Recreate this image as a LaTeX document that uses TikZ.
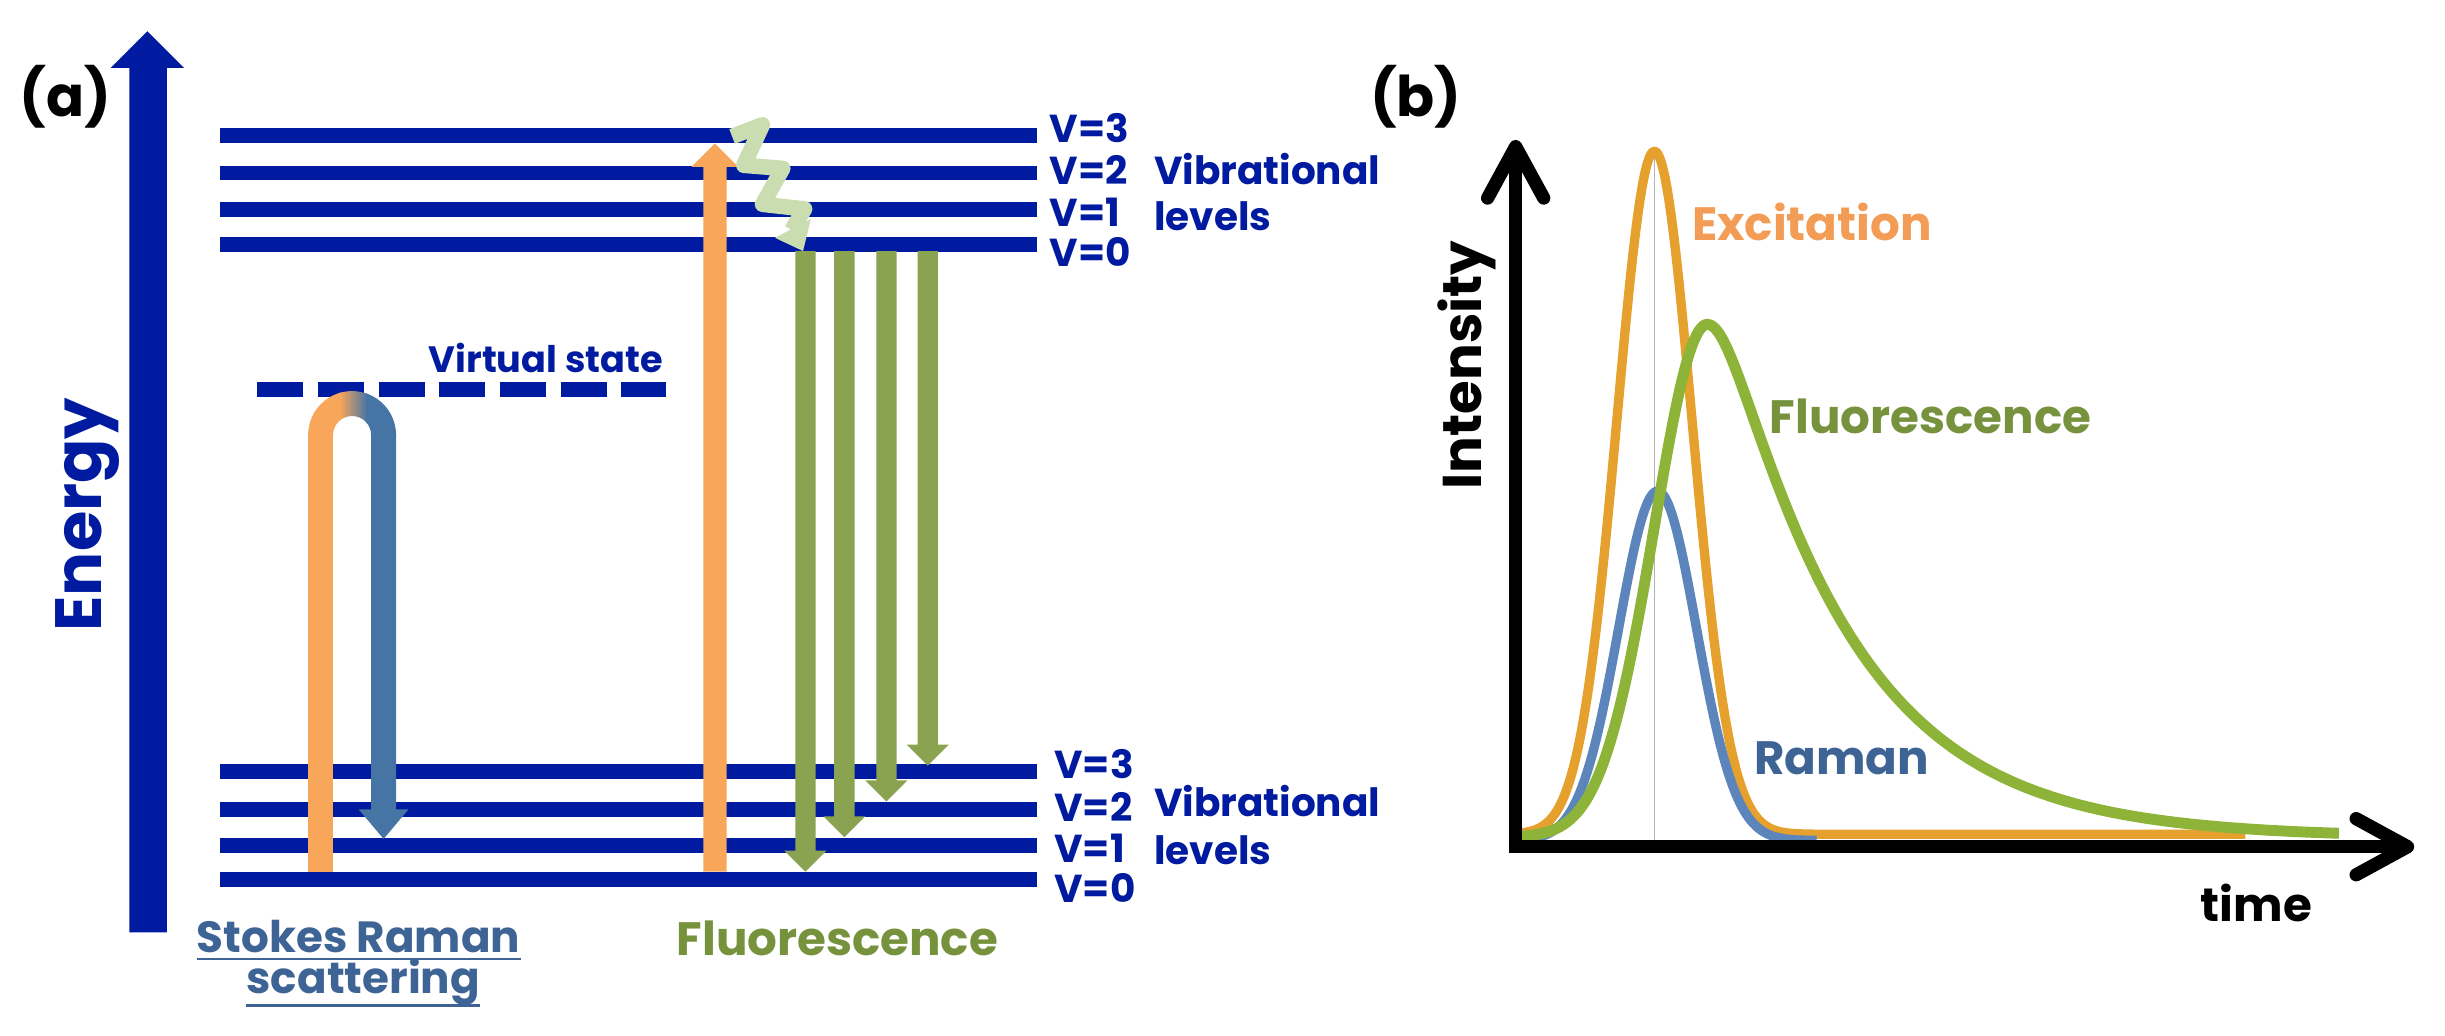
\documentclass[tikz,border=0pt]{standalone}
\usepackage{fontspec}
\setmainfont{Poppins}
\definecolor{navy}{RGB}{0,27,160}
\definecolor{exor}{RGB}{248,166,90}
\definecolor{rblue}{RGB}{70,117,165}
\definecolor{fgreen}{RGB}{137,163,80}
\definecolor{sqgreen}{RGB}{202,221,176}
\definecolor{ftext}{RGB}{118,146,60}
\definecolor{stokes}{RGB}{62,100,150}
\definecolor{cexc}{RGB}{229,160,45}
\definecolor{texc}{RGB}{243,156,86}
\definecolor{cflu}{RGB}{141,180,57}
\definecolor{cram}{RGB}{92,133,187}
\definecolor{tram}{RGB}{62,100,150}
\newcommand{\darr}[7]{% color, cx, ytop, ytip, shaft half, head half, head length
  \fill[#1] ({#2-#5},#3) -- ({#2-#5},{#4-#7}) -- ({#2-#6},{#4-#7}) -- (#2,#4) -- ({#2+#6},{#4-#7}) -- ({#2+#5},{#4-#7}) -- ({#2+#5},#3) -- cycle;}
\begin{document}
\begin{tikzpicture}[x=1pt,y=-1pt,
  level/.style={navy, line width=9.5pt},
  vlbl/.style={inner sep=0pt, anchor=base west, text=navy, font=\bfseries\fontsize{25}{30}\selectfont},
  big/.style={inner sep=0pt, font=\bfseries\fontsize{30}{36}\selectfont},
  axis/.style={line width=8.5pt},
  chev/.style={line width=8.5pt, line cap=round, line join=round}]
\useasboundingbox (0,0) rectangle (1568,663.8);
% ---------------- panel (a) ----------------
\node[inner sep=0pt, font=\bfseries\fontsize{36}{40}\selectfont] (la) at (42,62) {(a)};
% energy arrow
\fill[navy] (83,598) -- (83,43.5) -- (71,43.5) -- (94.5,20) -- (118,43.5) -- (107,43.5) -- (107,598) -- cycle;
\node[inner sep=0pt, rotate=90, text=navy, font=\bfseries\fontsize{42}{46}\selectfont] (energy) at (56,330) {Energy};
% levels
\foreach \yy in {87,111,134.3,156.7} \draw[level] (141,\yy) -- (665,\yy);
\foreach \yy in {495,519,542,564} \draw[level] (141,\yy) -- (665,\yy);
% virtual state
\draw[navy, line width=9.5pt, dash pattern=on 29.5pt off 9.4pt] (165,250) -- (427,250);
\node[vlbl, anchor=base, font=\bfseries\fontsize{23.5}{28}\selectfont] (vs) at (350,239) {Virtual state};
% labels
\node[vlbl] (t3) at (673,91.7) {V=3};
\node[vlbl] (t2) at (673,118.6) {V=2};
\node[vlbl] (t1) at (673,145.3) {V=1};
\node[vlbl] (t0) at (673,171) {V=0};
\node[vlbl] (tvib) at (740,118.6) {Vibrational};
\node[vlbl] (tlev) at (740,148) {levels};
\node[vlbl] (b3) at (676,499) {V=3};
\node[vlbl] (b2) at (676,526.7) {V=2};
\node[vlbl] (b1) at (676,553.4) {V=1};
\node[vlbl] (b0) at (676,579) {V=0};
\node[vlbl] (bvib) at (740,523.5) {Vibrational};
\node[vlbl] (blev) at (740,554.5) {levels};
% Raman U arrow
\begin{scope}
  \clip (197.6,279) arc[start angle=180, end angle=360, radius=28.2] -- (238,279)
        arc[start angle=0, end angle=-180, radius=12.2] -- cycle;
  \fill[exor] (190,240) rectangle (218.5,290);
  \shade[left color=exor, right color=rblue] (218,240) rectangle (235.5,290);
  \fill[rblue] (235,240) rectangle (260,290);
\end{scope}
\fill[exor] (197.6,278.5) rectangle (213.6,559);
\darr{rblue}{246}{278.5}{538}{8}{16}{19}
% excitation arrow
\darr{exor}{458.5}{559}{92}{-7.5}{-15}{-15}
% vibrational relaxation squiggle
\draw[sqgreen, line width=10pt, line join=round] (469.5,87.5) -- (489,80) -- (477,106) -- (502,108) -- (489,131) -- (516,134) -- (507.7,147.5);
\fill[sqgreen] (497,152.5) -- (515,161) -- (520,140.5) -- cycle;
% fluorescence arrows
\darr{fgreen}{516.5}{161}{559}{6.5}{13.5}{13.5}
\darr{fgreen}{541.5}{161}{537}{6.5}{13.5}{13.5}
\darr{fgreen}{568.5}{161}{514}{6.5}{13.5}{13.5}
\darr{fgreen}{595}{161}{491}{6.5}{13.5}{13.5}
% bottom texts
\node[big, anchor=base, text=stokes, font=\bfseries\fontsize{28}{34}\selectfont] (sr1) at (230,611) {Stokes Raman};
\node[big, anchor=base, text=stokes, font=\bfseries\fontsize{28}{34}\selectfont] (sr2) at (233,637) {scattering};
\draw[stokes, line width=1.8pt] ([yshift=-4pt]sr1.base west) -- ([yshift=-4pt]sr1.base east);
\draw[stokes, line width=1.8pt] ([yshift=-8pt]sr2.base west) -- ([yshift=-8pt]sr2.base east);
\node[big, anchor=base, text=ftext] (fa) at (537,613) {Fluorescence};
% ---------------- panel (b) ----------------
\node[inner sep=0pt, font=\bfseries\fontsize{36}{40}\selectfont] (lb) at (908,62) {(b)};
\draw[black!30, line width=0.8pt] (1061,97) -- (1061,540);
\draw[cexc, line width=6pt, line join=round] plot[domain=976:1175, samples=140] (\x,{535-438*exp(-0.5*((\x-1061)/24.1)^2)}) -- (1440,535);
\draw[cram, line width=6pt, line join=round] plot[domain=976:1165, samples=140] (\x,{539-224*exp(-0.5*((\x-1063)/25)^2)});
\draw[cflu, line width=7pt, line join=round] plot[domain=976:1095, samples=90] (\x,{537-329*exp(-0.5*((\x-1095)/34)^2)})
   -- plot[domain=1095:1500, samples=160] (\x,{537-329*exp(-(10*sqrt(((\x-1095)/10)^2+3.5)-18.7)/80)});
% axes
\draw[axis] (972,94) -- (972,543) -- (1544,543);
\draw[chev] (954,127) -- (972,94) -- (990,127);
\draw[chev] (1511,525) -- (1544,543) -- (1511,561);
\node[inner sep=0pt, rotate=90, font=\bfseries\fontsize{35}{40}\selectfont] (inten) at (941,234) {Intensity};
\node[big, anchor=base] (time) at (1447,591) {time};
\node[big, anchor=base, text=texc] (exc) at (1162,154) {Excitation};
\node[big, anchor=base, text=ftext] (fb) at (1238,278) {Fluorescence};
\node[big, anchor=base, text=tram] (ram) at (1181,497) {Raman};
\end{tikzpicture}
\end{document}
